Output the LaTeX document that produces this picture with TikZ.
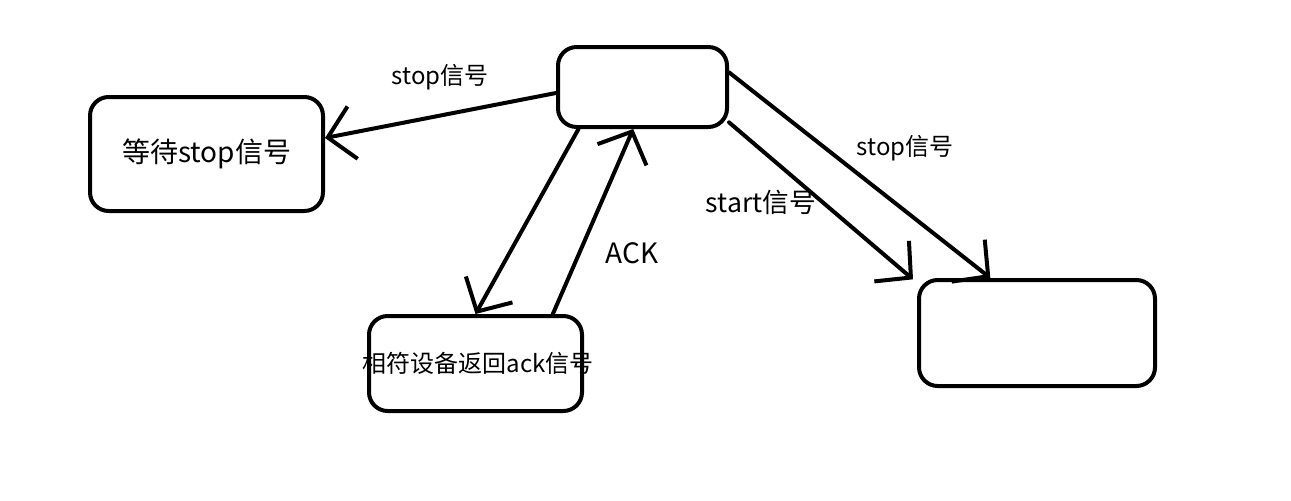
\documentclass[tikz,border=0pt]{standalone}
\usepackage{fontspec}
\setmainfont{Noto Sans CJK SC}
\usetikzlibrary{arrows.meta}

\begin{document}
\begin{tikzpicture}[x=0.75pt, y=-0.75pt]
      % Definimos algunos estilos
      \tikzstyle{estado}=[
        draw=black,
        line width=3pt,
        rounded corners=14pt,
        inner sep=0pt
      ]
      % flechas dibujadas a mano
      \tikzstyle{senal}=[
        line width=3pt,
        line cap=round,
        -{Straight Barb[length=19pt, width=40pt]}
      ]
      \tikzstyle{chico}=[font=\fontsize{18pt}{20pt}\selectfont]
      \tikzstyle{grande}=[font=\fontsize{21pt}{24pt}\selectfont]

      \useasboundingbox (0,0) rectangle (1291,500);

      % estados
      \node[estado, grande, minimum width=174.75pt, minimum height=85.5pt] (espera) at (206.5,154) {等待stop信号};
      \node[estado, minimum width=126.75pt, minimum height=60pt] (inicio) at (642.5,87) {};
      \node[estado, minimum width=159.75pt, minimum height=71.25pt,
        label={[chico, xshift=2pt]center:相符设备返回ack信号}] (equipo) at (475.5,363.5) {};
      \node[estado, minimum width=177pt, minimum height=79.5pt] (fin) at (1037,333) {};

      % stop hacia la espera
      \draw[senal] ([yshift=-4.5pt]inicio.west) -- ([yshift=12pt]espera.east);
      \node[chico] (stopA) at (440,77) {stop信号};

      % ida y vuelta con el equipo
      \draw[senal] ([xshift=-48pt]inicio.south) -- (equipo.north);
      \draw[senal] ([xshift=58pt]equipo.north) -- ([xshift=-7pt]inicio.south);
      \node[grande] (ack) at (632,253) {ACK};

      % start y stop hacia el estado final
      \draw[senal] ([xshift=0pt, yshift=5pt]inicio.south east) -- ([xshift=-3pt, yshift=-1pt]fin.north west);
      \node[grande, font=\fontsize{20pt}{22pt}\selectfont] (start) at (761,202) {start信号};
      \draw[senal] ([yshift=11pt]inicio.east) -- ([xshift=-35pt]fin.north);
      \node[chico] (stopB) at (905,148) {stop信号};
\end{tikzpicture}
\end{document}
